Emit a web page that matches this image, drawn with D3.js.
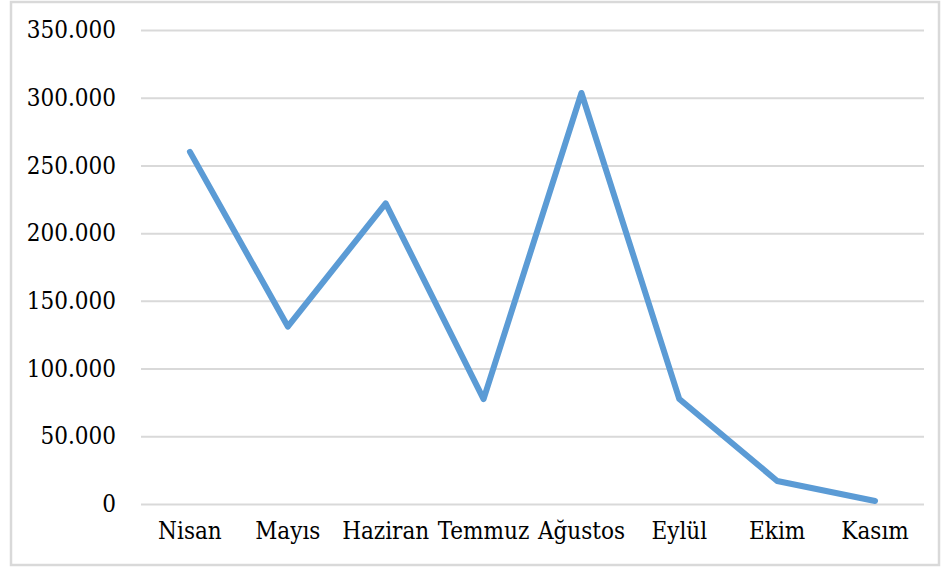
<!DOCTYPE html>
<html>
<head>
<meta charset="utf-8">
<script src="https://cdn.jsdelivr.net/npm/d3@7"></script>
<style>
    body { margin: 0; background: #fff; }
    svg text { font-stretch: condensed; }
</style>
</head>
<body>
<div id="chart"></div>
<script>
    // data
    var months = ["Nisan", "Mayıs", "Haziran", "Temmuz", "Ağustos", "Eylül", "Ekim", "Kasım"];
    var values = [260000, 131000, 222000, 77500, 303500, 77500, 17000, 2200];
    var yTicks = [0, 50000, 100000, 150000, 200000, 250000, 300000, 350000];

    var W = 942, H = 569;
    var margin = {top: 30, right: 18, bottom: 65, left: 141};
    var width = W - margin.left - margin.right,
        height = H - margin.top - margin.bottom;
    var serif = "DejaVu Serif Condensed, DejaVu Serif, serif";

    var svg = d3.select("#chart").append("svg")
        .attr("width", W)
        .attr("height", H);

    // outer frame
    svg.append("rect")
        .attr("x", 11).attr("y", 2)
        .attr("width", 928).attr("height", 563)
        .attr("fill", "none")
        .attr("stroke", "#d9d9d9")
        .attr("stroke-width", 2.5);

    var g = svg.append("g")
        .attr("transform", "translate(" + margin.left + "," + margin.top + ")");

    var x = d3.scaleBand().domain(months).range([0, width]);
    var y = d3.scaleLinear().domain([0, 350000]).range([height, 0]);

    var fmt = function(d) { return d === 0 ? "0" : d3.format(",")(d).replace(/,/g, "."); };

    // gridlines + y labels
    var yAxis = g.append("g")
        .call(d3.axisLeft(y).tickValues(yTicks).tickSize(-width).tickPadding(25).tickFormat(fmt));
    yAxis.select(".domain").remove();
    yAxis.selectAll(".tick line").attr("stroke", "#d9d9d9").attr("stroke-width", 2);
    yAxis.selectAll("text").attr("font-family", serif).attr("font-size", 24).attr("fill", "#000");

    // x labels
    var xAxis = g.append("g")
        .attr("transform", "translate(0," + height + ")")
        .call(d3.axisBottom(x).tickSize(0).tickPadding(18));
    xAxis.select(".domain").remove();
    xAxis.selectAll("text").attr("font-family", serif).attr("font-size", 24).attr("fill", "#000");

    // line
    var line = d3.line()
        .x(function(d, i) { return x(months[i]) + x.bandwidth() / 2; })
        .y(function(d) { return y(d); });

    g.append("path")
        .datum(values)
        .attr("fill", "none")
        .attr("stroke", "#5b9bd5")
        .attr("stroke-width", 6)
        .attr("stroke-linejoin", "round")
        .attr("stroke-linecap", "round")
        .attr("d", line);
</script>
</body>
</html>
